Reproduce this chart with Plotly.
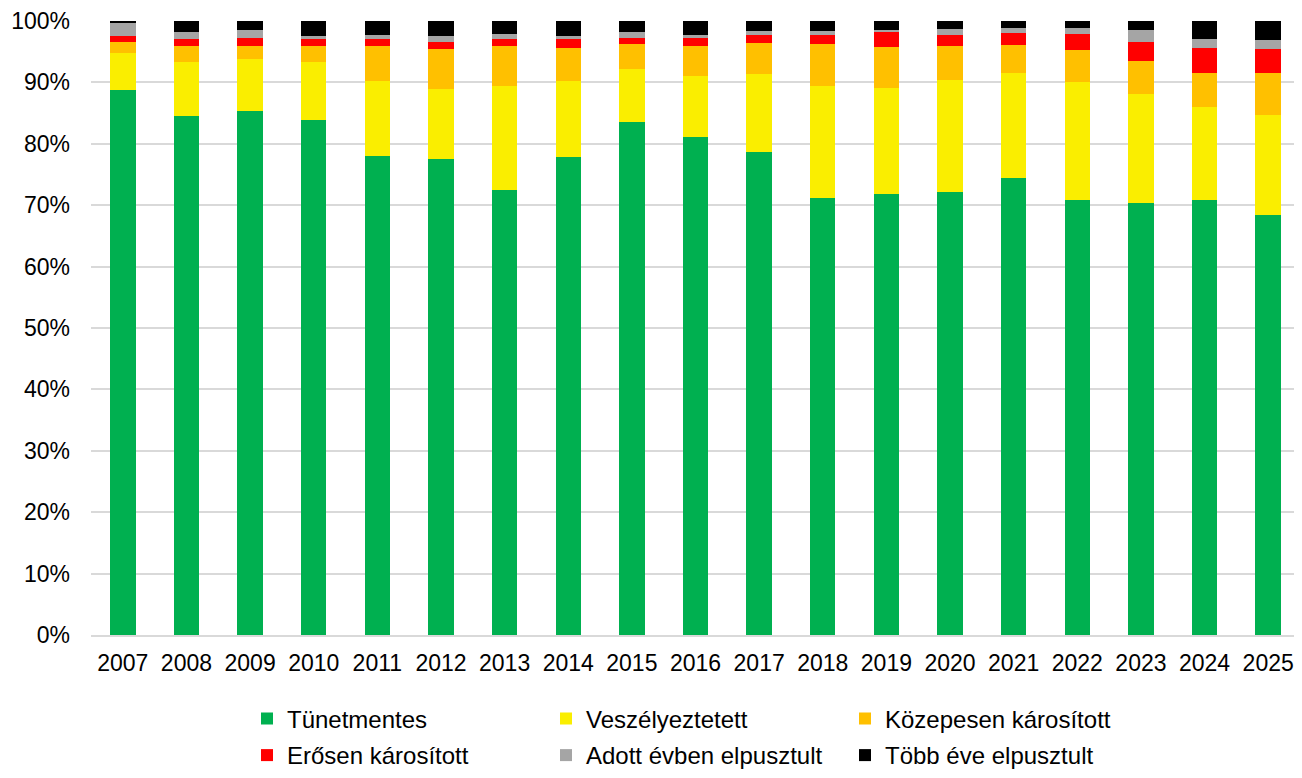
import plotly.graph_objects as go

years = [str(y) for y in range(2007, 2026)]

tunetmentes = [88.7, 84.5, 85.3, 83.9, 78.0, 77.6, 72.45, 77.8, 83.5, 81.1,
               78.7, 71.25, 71.75, 72.2, 74.4, 70.8, 70.4, 70.8, 68.4]
veszelyeztetett = [6.15, 8.9, 8.45, 9.4, 12.2, 11.4, 16.95, 12.5, 8.75, 10.0,
                   12.6, 18.1, 17.4, 18.2, 17.1, 19.25, 17.65, 15.2, 16.3]
kozepesen = [1.75, 2.5, 2.25, 2.6, 5.7, 6.4, 6.5, 5.25, 4.0, 4.9,
             5.05, 6.95, 6.55, 5.5, 4.55, 5.15, 5.45, 5.55, 6.8]
erosen = [0.95, 1.2, 1.3, 1.3, 1.1, 1.1, 1.1, 1.45, 1.05, 1.3,
          1.45, 1.5, 2.45, 1.8, 2.05, 2.7, 3.1, 4.1, 3.95]
adott_evben = [2.1, 1.1, 1.3, 0.3, 0.7, 1.0, 0.9, 0.55, 0.85, 0.5,
               0.6, 0.5, 0.35, 1.05, 0.7, 0.95, 2.0, 1.35, 1.4]
tobb_eve = [0.35, 1.8, 1.4, 2.5, 2.3, 2.5, 2.1, 2.45, 1.85, 2.2,
            1.6, 1.7, 1.5, 1.25, 1.2, 1.15, 1.4, 3.0, 3.15]

series = [
    ("Tünetmentes", tunetmentes, "#00B050", "legend"),
    ("Veszélyeztetett", veszelyeztetett, "#FAEE00", "legend"),
    ("Közepesen károsított", kozepesen, "#FFC000", "legend"),
    ("Erősen károsított", erosen, "#FF0000", "legend2"),
    ("Adott évben elpusztult", adott_evben, "#A5A5A5", "legend2"),
    ("Több éve elpusztult", tobb_eve, "#000000", "legend2"),
]

FONT = "Liberation Sans, Arial, sans-serif"

# the page body has an 8px margin, so the figure is sized to fit the window
W, H = 1294, 770

fig = go.Figure()
for name, vals, color, leg in series:
    fig.add_trace(go.Bar(x=years, y=vals, name=name, legend=leg,
                         marker=dict(color=color, line=dict(width=0))))

# two separate one-row legends so the row spacing can match
legend_style = dict(orientation="h", xanchor="left",
                    xref="container", yref="container",
                    entrywidth=254, entrywidthmode="pixels",
                    font=dict(family=FONT, size=24, color="#000000"),
                    bgcolor="rgba(0,0,0,0)", traceorder="normal")

fig.update_layout(
    barmode="stack",
    bargap=0.6,
    width=W, height=H,
    margin=dict(l=83, r=2, t=13, b=143),
    paper_bgcolor="white", plot_bgcolor="white",
    font=dict(family=FONT, size=23, color="#000000"),
    legend=dict(x=239 / W, y=1 - 711 / H, yanchor="middle", **legend_style),
    legend2=dict(x=239 / W, y=-8 / H, yanchor="bottom", **legend_style),
    xaxis=dict(showgrid=False, showline=True, linecolor="#D9D9D9", linewidth=1.5,
               ticks="", automargin=False, ticklabelstandoff=7,
               tickfont=dict(family=FONT, size=23)),
    yaxis=dict(range=[0, 100], dtick=10, ticksuffix="%", showgrid=True,
               gridcolor="#D9D9D9", gridwidth=1.5, zeroline=False,
               ticks="", ticklabelstandoff=20, automargin=False,
               tickfont=dict(family=FONT, size=23)),
)

fig.write_html("out.html")
